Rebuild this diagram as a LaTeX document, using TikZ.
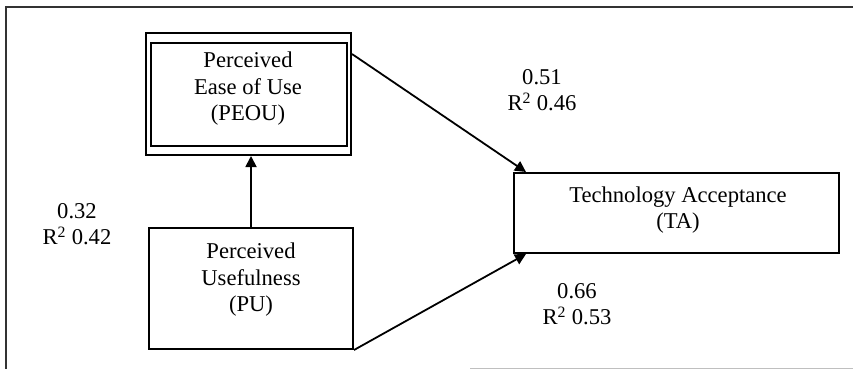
\documentclass[tikz,border=0pt]{standalone}
\usepackage{fontspec}
\setmainfont{Liberation Serif}
\usetikzlibrary{arrows.meta,calc}
\begin{document}
\begin{tikzpicture}[x=1pt,y=-1pt,
  box/.style={draw,line width=2pt,rectangle,inner sep=0pt},
  txt/.style={font=\fontsize{22.6}{26.5}\selectfont,align=center,inner sep=0pt},
  conn/.style={line width=1.8pt,-{Triangle[length=11pt,width=11pt]}},
  frame/.style={line width=2pt,draw=black!80}]
\useasboundingbox (0,0) rectangle (853,369);
% frame
\coordinate (ftl) at (6,7);
\coordinate (ftr) at (853,7);
\coordinate (fbl) at (6,369);
\coordinate (fbm) at (470,368);
\coordinate (fbr) at (853,368);
\draw[frame] (ftr) -- (ftl) -- (fbl);
\draw[line width=1pt,draw=black!25] (fbm) -- (fbr);
% boxes
\node[box,minimum width=205pt,minimum height=122pt] (peou) at (248.5,94) {};
\node[box,line width=1.6pt,minimum width=196pt,minimum height=103pt] (peoui) at (249,94.5) {};
\node[box,minimum width=204pt,minimum height=121pt] (pu) at (251,288.5) {};
\node[box,minimum width=325pt,minimum height=80pt] (ta) at (676.5,213) {};
% box texts
\node[txt,anchor=center] (tpeou) at (248,89) {Perceived\\Ease of Use\\(PEOU)};
\node[txt,anchor=center] (tpu) at (251,280) {Perceived\\Usefulness\\(PU)};
\node[txt,anchor=center] (tta) at (678,210) {Technology Acceptance\\(TA)};
% labels
\node[txt] (l1) at (77,224) {0.32\\R\textsuperscript{2} 0.42};
\node[txt] (l2) at (542,90) {0.51\\R\textsuperscript{2} 0.46};
\node[txt] (l3) at (577,304) {0.66\\R\textsuperscript{2} 0.53};
% connectors
\draw[conn] (pu.north) -- (pu.north |- peou.south);
\draw[conn] ($(peou.north east)+(0,22)$) -- ($(ta.north west)+(13,0)$);
\draw[conn] (pu.south east) -- ($(ta.south west)+(13,0)$);
\end{tikzpicture}
\end{document}
